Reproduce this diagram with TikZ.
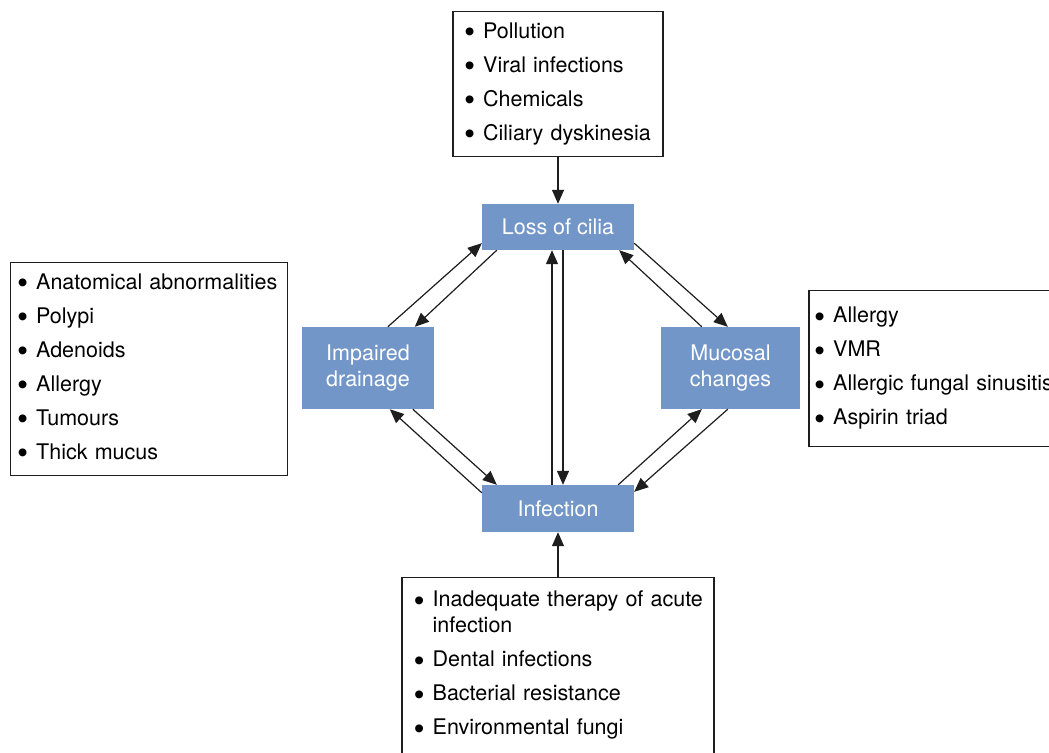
\documentclass[tikz,border=0pt]{standalone}
\usepackage{fontspec}
\usepackage{graphicx}
\setmainfont{TeX Gyre Heros}
\newfontfamily\bulfont{Liberation Sans}
\usetikzlibrary{arrows.meta,calc}
\definecolor{boxblue}{HTML}{7396C8}
\definecolor{linecol}{HTML}{1E1E1E}
\newcommand{\blist}[1]{\begin{tabular}{@{}l@{\hspace{8.5pt}}l@{}}#1\end{tabular}}
\newcommand{\bul}{\raisebox{-3.5pt}{\scalebox{1.35}{\bulfont\textbullet}}}
\begin{document}
\begin{tikzpicture}[x=1pt,y=-1pt,
  font=\fontsize{21.5}{26}\selectfont,
  listbox/.style={draw=linecol, line width=1.3pt, fill=white, inner ysep=0pt, align=left},
  bluebox/.style={fill=boxblue, text=white, align=center, inner sep=0pt},
  arr/.style={draw=linecol, line width=1.2pt, -{Triangle[length=14pt,width=12pt]}}]
\path[use as bounding box, clip] (0,0) rectangle (1049,752);
\fill[white] (0,0) rectangle (1049,752);
% blue boxes
\node[bluebox, minimum width=152pt, minimum height=46pt] (loss) at (558,227) {Loss of cilia};
\node[bluebox, minimum width=132pt, minimum height=82pt] (imp) at (368,368) {Impaired\\drainage};
\node[bluebox, minimum width=139pt, minimum height=82pt] (muc) at (730.5,368) {Mucosal\\changes};
\node[bluebox, minimum width=152pt, minimum height=47pt] (inf) at (558,508.5) {Infection};
% list boxes
\node[listbox, inner xsep=11.5pt, text width=187pt, minimum height=145pt] (top) at (558,84) {\blist{%
  \bul & Pollution\\[8pt]
  \bul & Viral infections\\[8pt]
  \bul & Chemicals\\[8pt]
  \bul & Ciliary dyskinesia}};
\node[listbox, inner xsep=7pt, text width=263pt, minimum height=213pt] (left) at (149,369) {\blist{%
  \bul & Anatomical abnormalities\\[8pt]
  \bul & Polypi\\[8pt]
  \bul & Adenoids\\[8pt]
  \bul & Allergy\\[8pt]
  \bul & Tumours\\[8pt]
  \bul & Thick mucus}};
\node[listbox, inner xsep=5.5pt, text width=243pt, minimum height=156pt] (right) at (936,368.5) {\blist{%
  \bul & Allergy\\[8pt]
  \bul & VMR\\[8pt]
  \bul & Allergic fungal sinusitis\\[8pt]
  \bul & Aspirin triad}};
\node[listbox, inner xsep=12pt, text width=288pt, minimum height=176pt] (bot) at (558,665.5) {\blist{%
  \bul & Inadequate therapy of acute\\
       & infection\\[8pt]
  \bul & Dental infections\\[8pt]
  \bul & Bacterial resistance\\[8pt]
  \bul & Environmental fungi}};
% connectors
\draw[arr] (top.south) -- (loss.north);
\draw[arr] (bot.north) -- (inf.south);
\draw[arr] ([xshift=86pt]imp.north west) -- ([yshift=7pt]loss.south west);
\draw[arr] ([xshift=15pt]loss.south west) -- ([xshift=113pt]imp.north west);
\draw[arr] ([yshift=7pt]loss.south east) -- ([xshift=67pt]muc.north west);
\draw[arr] ([xshift=41pt]muc.north west) -- ([xshift=-15pt]loss.south east);
\draw[arr] ([yshift=-8pt]inf.north west) -- ([xshift=88pt]imp.south west);
\draw[arr] ([xshift=111pt]imp.south west) -- ([xshift=15pt]inf.north west);
\draw[arr] ([xshift=-16pt]inf.north east) -- ([xshift=41pt]muc.south west);
\draw[arr] ([xshift=67pt]muc.south west) -- ([yshift=-7pt]inf.north east);
\draw[arr] ([xshift=-6pt]inf.north) -- ([xshift=-6pt]loss.south);
\draw[arr] ([xshift=5pt]loss.south) -- ([xshift=5pt]inf.north);
\end{tikzpicture}
\end{document}
